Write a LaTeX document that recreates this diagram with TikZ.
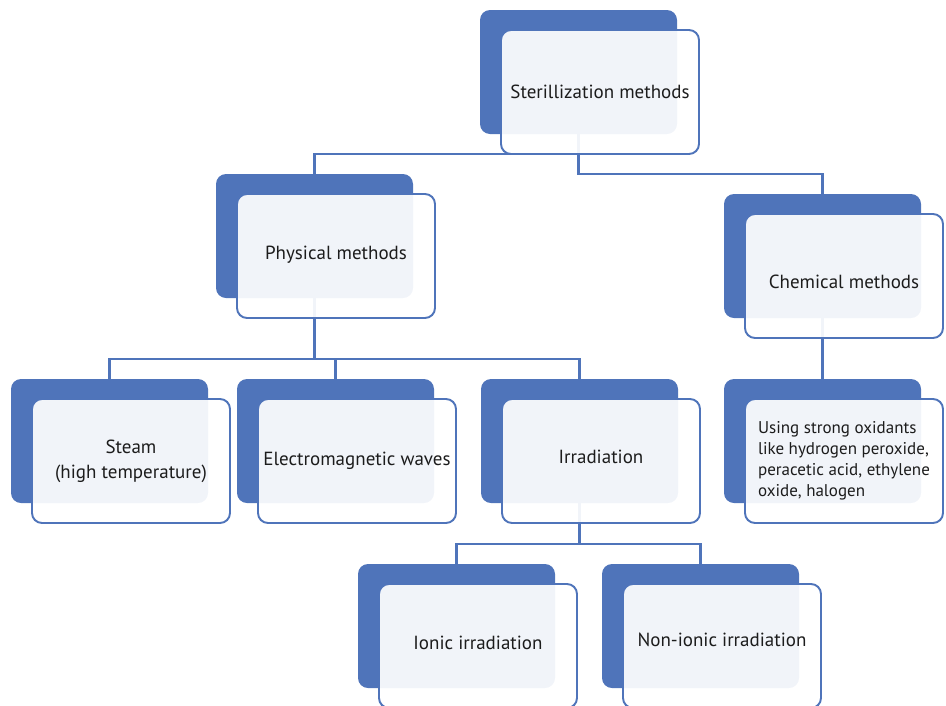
\documentclass[tikz,border=0pt]{standalone}
\usepackage{fontspec}
\setmainfont{PT Sans}
\usetikzlibrary{calc}
\definecolor{bblue}{RGB}{79,116,186}
\definecolor{tgray}{RGB}{28,28,28}
\pgfdeclarelayer{background}
\pgfsetlayers{background,main}
\tikzset{
  backbox/.style={fill=bblue, rounded corners=10pt, minimum width=197pt, minimum height=124pt, anchor=north west, inner sep=0pt, outer sep=0pt},
  frontbox/.style={draw=bblue, line width=1.9pt, fill=white, fill opacity=0.92, text opacity=1, rounded corners=10pt, minimum width=198pt, minimum height=124pt, anchor=north west, align=center, inner sep=2pt, outer sep=0pt, font=\fontsize{19}{25}\selectfont, text=tgray},
  conn/.style={draw=bblue, line width=2.1pt},
}
\newcommand\smartpair[5][]{%
  \node[backbox] (#2b) at (#3,#4) {};
  \node[frontbox,#1] (#2) at ($(#2b.north west)+(21,20)$) {#5};}
\newcommand\shifttext[2]{\raisebox{#1}[\height][\depth]{#2}}
\begin{document}
\begin{tikzpicture}[x=1pt,y=-1pt]
\useasboundingbox (0,0) rectangle (946,705);
\smartpair{top}{480}{10}{Sterillization methods}
\smartpair{phys}{216}{174}{\shifttext{1pt}{Physical methods}}
\smartpair{chem}{724}{194}{\shifttext{-6pt}{Chemical methods}}
\smartpair{steam}{11}{379}{Steam\\(high temperature)}
\smartpair{em}{237}{379}{Electromagnetic waves}
\smartpair{irr}{481}{379}{\shifttext{4pt}{Irradiation}}
\smartpair[align=left, font=\fontsize{17}{21}\selectfont]{ox}{724}{379}{Using strong oxidants\\like hydrogen peroxide,\\peracetic acid, ethylene\\oxide, halogen}
\smartpair{ion}{358}{564}{\shifttext{3pt}{Ionic irradiation}}
\smartpair{non}{602}{564}{\shifttext{6pt}{Non-ionic irradiation}}
\begin{pgfonlayer}{background}
\draw[conn] (topb.south) |- ([yshift=20pt]physb.north) -- (physb.north);
\draw[conn] (topb.south) |- ([yshift=20pt]chemb.north) -- (chemb.north);
\draw[conn] (physb.south) |- ([yshift=20pt]steamb.north) -- (steamb.north);
\draw[conn] (physb.south) |- ([yshift=20pt]emb.north) -- (emb.north);
\draw[conn] (physb.south) |- ([yshift=20pt]irrb.north) -- (irrb.north);
\draw[conn] (chemb.south) -- (oxb.north);
\draw[conn] (irrb.south) |- ([yshift=20pt]ionb.north) -- (ionb.north);
\draw[conn] (irrb.south) |- ([yshift=20pt]nonb.north) -- (nonb.north);
\end{pgfonlayer}
\end{tikzpicture}
\end{document}
